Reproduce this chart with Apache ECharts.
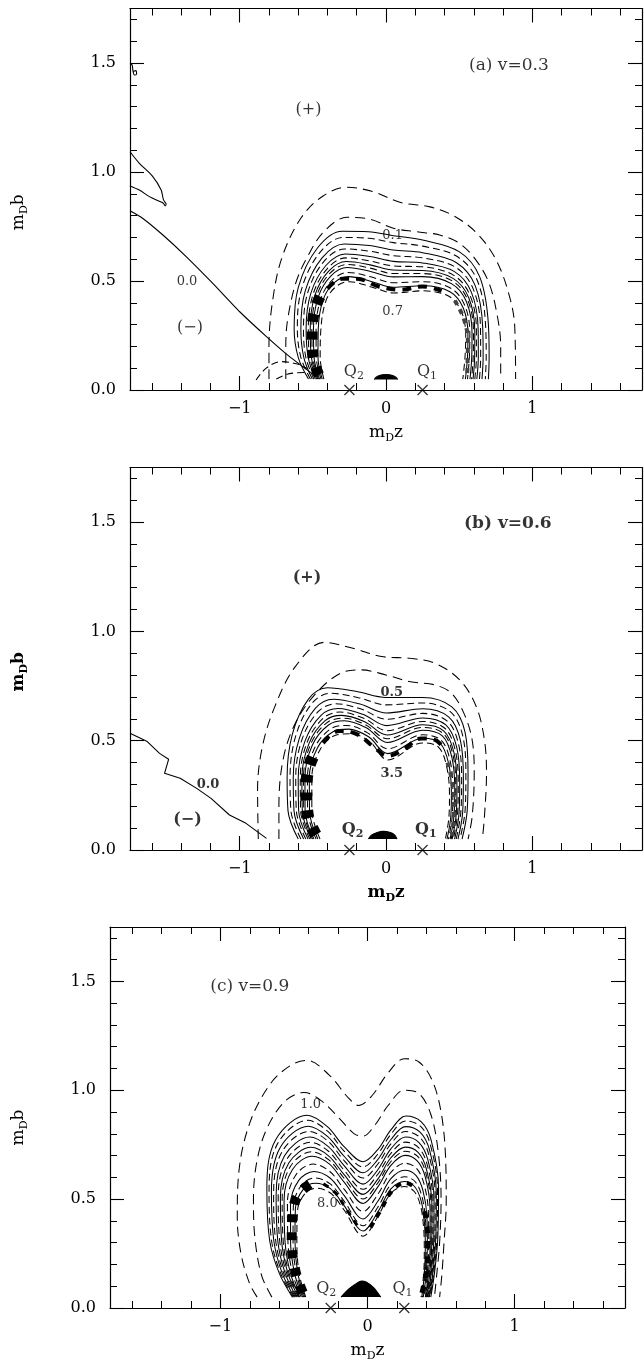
<!DOCTYPE html>
<html><head><meta charset="utf-8">
<script src="https://cdn.jsdelivr.net/npm/echarts@6/dist/echarts.min.js"></script>
<style>html,body{margin:0;padding:0;background:#fff}#chart{width:644px;height:1359px}</style>
</head><body><div id="chart"></div>
<script>
// ---------- axis ticks ----------
const X_RANGE = [-1.75, 1.75];
const Y_RANGE = [0, 1.75];
const xMajorTicks = [-1, 0, 1];
const xMinorTicks = [-1.6,-1.4,-1.2,-0.8,-0.6,-0.4,-0.2,0.2,0.4,0.6,0.8,1.2,1.4,1.6];
const yMajorTicks = [0, 0.5, 1.0, 1.5];
const yMinorTicks = [0.1,0.2,0.3,0.4,0.6,0.7,0.8,0.9,1.1,1.2,1.3,1.4,1.6,1.7];
const qMarks = [[-0.25, 0], [0.25, 0]];

// ---------- panel (a) v=0.3 ----------
const aOuter = [[-0.80,0.05],[-0.80,0.20],[-0.775,0.41],[-0.71,0.61],[-0.58,0.79],[-0.43,0.89],[-0.27,0.93],[-0.09,0.91],[0.10,0.86],[0.30,0.84],[0.46,0.80],[0.62,0.72],[0.75,0.60],[0.84,0.44],[0.88,0.29],[0.886,0.05]];
const aDash2 = [[-0.685,0.05],[-0.685,0.20],[-0.673,0.32],[-0.617,0.49],[-0.538,0.61],[-0.425,0.726],[-0.267,0.792],[-0.108,0.783],[0.05,0.742],[0.208,0.726],[0.366,0.711],[0.502,0.673],[0.615,0.596],[0.705,0.489],[0.762,0.336],[0.784,0.20],[0.784,0.05]];
const aLevel01 = [[-0.53,0.05],[-0.60,0.15],[-0.628,0.28],[-0.60,0.47],[-0.47,0.65],[-0.30,0.728],[-0.12,0.726],[0.05,0.708],[0.25,0.688],[0.50,0.635],[0.64,0.52],[0.70,0.30],[0.705,0.15],[0.70,0.05]];
const aF12 = [[-0.517,0.05],[-0.582,0.15],[-0.606,0.28],[-0.577,0.463],[-0.454,0.629],[-0.294,0.700],[-0.118,0.696],[0.05,0.676],[0.25,0.660],[0.492,0.610],[0.625,0.501],[0.681,0.294],[0.685,0.15],[0.679,0.05]];
const aF25 = [[-0.504,0.05],[-0.562,0.15],[-0.582,0.28],[-0.552,0.455],[-0.437,0.606],[-0.287,0.670],[-0.115,0.663],[0.05,0.642],[0.25,0.630],[0.482,0.584],[0.609,0.48],[0.661,0.288],[0.664,0.15],[0.656,0.05]];
const aF35 = [[-0.493,0.05],[-0.548,0.15],[-0.564,0.28],[-0.534,0.449],[-0.425,0.589],[-0.283,0.647],[-0.113,0.637],[0.05,0.616],[0.25,0.606],[0.476,0.563],[0.596,0.464],[0.646,0.283],[0.647,0.15],[0.639,0.05]];
const aF45 = [[-0.483,0.05],[-0.532,0.15],[-0.546,0.28],[-0.514,0.443],[-0.411,0.571],[-0.277,0.624],[-0.111,0.612],[0.05,0.590],[0.25,0.583],[0.468,0.543],[0.584,0.448],[0.630,0.277],[0.631,0.15],[0.621,0.05]];
const aF53 = [[-0.474,0.05],[-0.521,0.15],[-0.531,0.28],[-0.499,0.438],[-0.401,0.557],[-0.274,0.606],[-0.109,0.592],[0.05,0.569],[0.25,0.565],[0.463,0.526],[0.574,0.435],[0.618,0.274],[0.618,0.15],[0.607,0.05]];
const aF60 = [[-0.467,0.05],[-0.51,0.15],[-0.518,0.28],[-0.486,0.434],[-0.392,0.545],[-0.27,0.589],[-0.108,0.574],[0.05,0.550],[0.25,0.548],[0.458,0.512],[0.565,0.424],[0.607,0.27],[0.606,0.15],[0.595,0.05]];
const aF66 = [[-0.461,0.05],[-0.501,0.15],[-0.507,0.28],[-0.475,0.430],[-0.384,0.535],[-0.267,0.576],[-0.107,0.559],[0.05,0.534],[0.25,0.534],[0.454,0.500],[0.558,0.414],[0.598,0.267],[0.596,0.15],[0.585,0.05]];
const aF72 = [[-0.454,0.05],[-0.492,0.15],[-0.496,0.28],[-0.463,0.427],[-0.376,0.524],[-0.264,0.562],[-0.106,0.544],[0.05,0.519],[0.25,0.520],[0.45,0.487],[0.55,0.405],[0.588,0.264],[0.586,0.15],[0.574,0.05]];
const aF82 = [[-0.444,0.05],[-0.477,0.15],[-0.478,0.28],[-0.444,0.421],[-0.363,0.507],[-0.259,0.539],[-0.104,0.519],[0.05,0.492],[0.25,0.497],[0.443,0.467],[0.538,0.389],[0.573,0.259],[0.570,0.15],[0.557,0.05]];
const aF90 = [[-0.436,0.05],[-0.465,0.15],[-0.463,0.28],[-0.429,0.416],[-0.353,0.493],[-0.255,0.520],[-0.102,0.498],[0.05,0.471],[0.25,0.478],[0.437,0.451],[0.528,0.376],[0.560,0.255],[0.557,0.15],[0.543,0.05]];
const aInner = [[-0.425,0.05],[-0.45,0.15],[-0.445,0.28],[-0.41,0.41],[-0.34,0.475],[-0.25,0.497],[-0.10,0.473],[0.05,0.445],[0.25,0.455],[0.43,0.43],[0.515,0.36],[0.545,0.25],[0.54,0.15],[0.525,0.05]];
const aZero = [[-1.75,0.822],[-1.662,0.787],[-1.525,0.711],[-1.366,0.612],[-1.184,0.489],[-1.0,0.359],[-0.817,0.245],[-0.659,0.153],[-0.476,0.061]];
const aLoop = [[-1.75,1.093],[-1.686,1.04],[-1.594,0.979],[-1.537,0.917],[-1.521,0.872],[-1.503,0.853],[-1.51,0.845],[-1.52,0.855],[-1.537,0.862],[-1.617,0.887],[-1.686,0.917],[-1.75,0.936]];
const aCurl = [[-1.75,1.50],[-1.735,1.49],[-1.73,1.465],[-1.72,1.445],[-1.705,1.45],[-1.71,1.465],[-1.725,1.462]];
const aFoot1 = [[-0.888,0.046],[-0.821,0.099],[-0.719,0.13],[-0.606,0.119],[-0.538,0.099]];
const aFoot2 = [[-0.75,0.05],[-0.66,0.075],[-0.56,0.08]];
const aCap = [[-0.08,0.048],[-0.065,0.060],[-0.04,0.068],[0,0.071],[0.04,0.068],[0.065,0.060],[0.08,0.048]];
const aBandL = [[-0.46,0.07],[-0.50,0.16],[-0.505,0.26],[-0.49,0.36],[-0.45,0.43]];
const aBandT = [[-0.40,0.465],[-0.30,0.51],[-0.20,0.51],[-0.05,0.475],[0.10,0.46],[0.25,0.475],[0.38,0.455]];
const aBandR = [[0.47,0.41],[0.53,0.33],[0.56,0.22],[0.555,0.07]];
const aTexts = [['(a) v=0.3',0.84,1.49,17],['(+)',-0.53,1.284,16],['0.0',-1.36,0.497,13],['(−)',-1.34,0.284,16],['0.1',0.045,0.71,13],['0.7',0.045,0.36,13]];
const aQLabels = [['Q{s|2}',-0.22,0.085],['Q{s|1}',0.28,0.085]];

// ---------- panel (b) v=0.6 ----------
const bOuter = [[-0.873,0.05],[-0.878,0.275],[-0.845,0.473],[-0.76,0.656],[-0.62,0.839],[-0.423,0.95],[-0.226,0.923],[-0.03,0.885],[0.167,0.877],[0.336,0.854],[0.504,0.778],[0.617,0.656],[0.673,0.503],[0.687,0.351],[0.673,0.153],[0.659,0.05]];
const bDash2 = [[-0.732,0.05],[-0.732,0.198],[-0.704,0.412],[-0.62,0.58],[-0.479,0.717],[-0.311,0.809],[-0.17,0.824],[-0.001,0.801],[0.167,0.77],[0.336,0.755],[0.448,0.717],[0.533,0.625],[0.589,0.503],[0.603,0.351],[0.589,0.153],[0.561,0.05]];
const bLevel05 = [[-0.60,0.05],[-0.67,0.18],[-0.676,0.33],[-0.64,0.53],[-0.53,0.69],[-0.40,0.742],[-0.20,0.725],[0.0,0.698],[0.25,0.698],[0.45,0.655],[0.54,0.54],[0.561,0.35],[0.555,0.18],[0.52,0.05]];
const bF12 = [[-0.582,0.05],[-0.650,0.18],[-0.656,0.33],[-0.617,0.522],[-0.507,0.670],[-0.381,0.717],[-0.189,0.697],[0.002,0.664],[0.25,0.673],[0.439,0.633],[0.525,0.521],[0.546,0.338],[0.540,0.176],[0.506,0.05]];
const bF25 = [[-0.563,0.05],[-0.629,0.18],[-0.634,0.33],[-0.592,0.512],[-0.482,0.649],[-0.36,0.690],[-0.178,0.668],[0.003,0.627],[0.25,0.646],[0.428,0.609],[0.509,0.50],[0.529,0.325],[0.524,0.172],[0.492,0.05]];
const bF35 = [[-0.548,0.05],[-0.613,0.18],[-0.617,0.33],[-0.574,0.506],[-0.464,0.633],[-0.344,0.669],[-0.169,0.645],[0.005,0.598],[0.25,0.625],[0.419,0.590],[0.496,0.484],[0.517,0.315],[0.511,0.170],[0.480,0.05]];
const bF45 = [[-0.533,0.05],[-0.597,0.18],[-0.600,0.33],[-0.554,0.498],[-0.444,0.616],[-0.328,0.647],[-0.159,0.621],[0.006,0.569],[0.25,0.604],[0.409,0.572],[0.484,0.468],[0.504,0.305],[0.499,0.166],[0.469,0.05]];
const bF53 = [[-0.521,0.05],[-0.584,0.18],[-0.586,0.33],[-0.539,0.493],[-0.429,0.603],[-0.315,0.631],[-0.152,0.603],[0.007,0.546],[0.25,0.588],[0.402,0.557],[0.474,0.455],[0.494,0.297],[0.489,0.164],[0.460,0.05]];
const bF60 = [[-0.511,0.05],[-0.572,0.18],[-0.575,0.33],[-0.526,0.488],[-0.416,0.592],[-0.304,0.616],[-0.146,0.587],[0.008,0.526],[0.25,0.573],[0.396,0.544],[0.465,0.444],[0.485,0.29],[0.48,0.162],[0.452,0.05]];
const bF66 = [[-0.502,0.05],[-0.562,0.18],[-0.564,0.33],[-0.515,0.484],[-0.405,0.582],[-0.294,0.603],[-0.141,0.573],[0.009,0.509],[0.25,0.561],[0.391,0.533],[0.458,0.434],[0.477,0.284],[0.473,0.160],[0.445,0.05]];
const bF72 = [[-0.493,0.05],[-0.553,0.18],[-0.554,0.33],[-0.503,0.48],[-0.393,0.572],[-0.285,0.591],[-0.135,0.559],[0.009,0.492],[0.25,0.548],[0.385,0.522],[0.45,0.425],[0.47,0.278],[0.465,0.158],[0.438,0.05]];
const bF82 = [[-0.478,0.05],[-0.536,0.18],[-0.537,0.33],[-0.484,0.473],[-0.374,0.556],[-0.269,0.570],[-0.126,0.536],[0.011,0.463],[0.25,0.527],[0.376,0.503],[0.438,0.409],[0.457,0.268],[0.453,0.155],[0.427,0.05]];
const bF90 = [[-0.466,0.05],[-0.523,0.18],[-0.524,0.33],[-0.469,0.467],[-0.359,0.542],[-0.256,0.553],[-0.119,0.518],[0.012,0.441],[0.25,0.511],[0.369,0.489],[0.428,0.396],[0.447,0.26],[0.443,0.153],[0.417,0.05]];
const bInner = [[-0.451,0.05],[-0.507,0.18],[-0.507,0.33],[-0.45,0.46],[-0.34,0.526],[-0.24,0.532],[-0.11,0.495],[0.013,0.412],[0.25,0.49],[0.36,0.47],[0.415,0.38],[0.434,0.25],[0.43,0.15],[0.406,0.05]];
const bZero = [[-1.75,0.534],[-1.632,0.496],[-1.548,0.442],[-1.486,0.415],[-1.514,0.351],[-1.407,0.328],[-1.294,0.282],[-1.196,0.236],[-1.07,0.16],[-0.957,0.122],[-0.817,0.053]];
const bCap = [[-0.12,0.05],[-0.10,0.068],[-0.06,0.08],[-0.02,0.085],[0.03,0.08],[0.06,0.068],[0.075,0.05]];
const bBandL = [[-0.48,0.07],[-0.535,0.16],[-0.545,0.27],[-0.53,0.37],[-0.49,0.44]];
const bBandT = [[-0.43,0.49],[-0.32,0.545],[-0.20,0.53],[-0.08,0.47],[0.01,0.43],[0.12,0.46],[0.24,0.51],[0.33,0.505],[0.40,0.46]];
const bBandR = [[0.42,0.40],[0.455,0.30],[0.465,0.18],[0.45,0.07]];
const bTexts = [['(b) v=0.6',0.833,1.495,17],['(+)',-0.54,1.243,16],['0.0',-1.217,0.297,13],['(−)',-1.357,0.137,16],['0.5',0.04,0.722,13],['3.5',0.04,0.351,13]];
const bQLabels = [['Q{s|2}',-0.228,0.092],['Q{s|1}',0.272,0.092]];

// ---------- panel (c) v=0.9 ----------
const cOuter = [[-0.75,0.05],[-0.80,0.11],[-0.86,0.25],[-0.885,0.42],[-0.875,0.62],[-0.80,0.85],[-0.66,1.03],[-0.52,1.115],[-0.41,1.137],[-0.26,1.07],[-0.13,0.965],[-0.06,0.93],[0.03,0.975],[0.14,1.08],[0.25,1.145],[0.35,1.13],[0.44,1.045],[0.50,0.90],[0.53,0.70],[0.535,0.49],[0.52,0.30],[0.505,0.15],[0.49,0.05]];
const cDash2 = [[-0.65,0.05],[-0.72,0.15],[-0.765,0.32],[-0.775,0.50],[-0.75,0.68],[-0.68,0.83],[-0.56,0.95],[-0.43,0.99],[-0.31,0.95],[-0.19,0.87],[-0.09,0.80],[-0.03,0.79],[0.05,0.84],[0.14,0.93],[0.25,1.00],[0.35,0.985],[0.43,0.89],[0.48,0.72],[0.50,0.50],[0.49,0.30],[0.47,0.15],[0.455,0.05]];
const cLevel10 = [[-0.51,0.05],[-0.60,0.16],[-0.665,0.31],[-0.684,0.55],[-0.625,0.772],[-0.41,0.885],[-0.273,0.833],[-0.159,0.741],[-0.03,0.672],[0.068,0.726],[0.159,0.818],[0.261,0.882],[0.364,0.856],[0.432,0.772],[0.483,0.55],[0.477,0.313],[0.455,0.159],[0.43,0.05]];
const cF07 = [[-0.504,0.05],[-0.591,0.16],[-0.652,0.31],[-0.669,0.543],[-0.611,0.755],[-0.406,0.862],[-0.271,0.812],[-0.159,0.721],[-0.03,0.648],[0.068,0.705],[0.159,0.798],[0.260,0.859],[0.361,0.834],[0.427,0.751],[0.476,0.538],[0.471,0.311],[0.450,0.159],[0.425,0.05]];
const cF15 = [[-0.497,0.05],[-0.580,0.16],[-0.637,0.31],[-0.653,0.535],[-0.594,0.736],[-0.401,0.835],[-0.270,0.787],[-0.159,0.697],[-0.03,0.621],[0.068,0.680],[0.159,0.774],[0.259,0.833],[0.357,0.808],[0.421,0.727],[0.468,0.524],[0.463,0.308],[0.444,0.159],[0.42,0.05]];
const cF22 = [[-0.490,0.05],[-0.570,0.16],[-0.624,0.31],[-0.638,0.528],[-0.580,0.719],[-0.397,0.811],[-0.268,0.766],[-0.159,0.677],[-0.03,0.597],[0.068,0.659],[0.159,0.754],[0.259,0.811],[0.354,0.785],[0.416,0.706],[0.460,0.513],[0.457,0.306],[0.439,0.159],[0.415,0.05]];
const cF30 = [[-0.483,0.05],[-0.560,0.16],[-0.610,0.31],[-0.621,0.52],[-0.564,0.699],[-0.392,0.785],[-0.266,0.741],[-0.159,0.654],[-0.03,0.569],[0.069,0.634],[0.159,0.731],[0.258,0.785],[0.350,0.760],[0.410,0.681],[0.452,0.499],[0.450,0.303],[0.433,0.159],[0.41,0.05]];
const cF37 = [[-0.477,0.05],[-0.550,0.16],[-0.597,0.31],[-0.607,0.513],[-0.549,0.682],[-0.388,0.761],[-0.265,0.720],[-0.159,0.633],[-0.03,0.545],[0.069,0.613],[0.159,0.710],[0.257,0.762],[0.347,0.737],[0.405,0.660],[0.445,0.487],[0.443,0.301],[0.428,0.159],[0.406,0.05]];
const cF44 = [[-0.470,0.05],[-0.541,0.16],[-0.584,0.31],[-0.592,0.506],[-0.535,0.666],[-0.384,0.738],[-0.263,0.698],[-0.159,0.613],[-0.03,0.522],[0.069,0.591],[0.159,0.690],[0.256,0.739],[0.344,0.715],[0.400,0.639],[0.438,0.475],[0.437,0.298],[0.423,0.159],[0.401,0.05]];
const cF50 = [[-0.465,0.05],[-0.533,0.16],[-0.573,0.31],[-0.580,0.50],[-0.523,0.651],[-0.38,0.718],[-0.262,0.680],[-0.159,0.596],[-0.03,0.501],[0.069,0.573],[0.159,0.673],[0.256,0.720],[0.341,0.696],[0.396,0.621],[0.432,0.465],[0.432,0.297],[0.419,0.159],[0.397,0.05]];
const cF56 = [[-0.460,0.05],[-0.524,0.16],[-0.561,0.31],[-0.567,0.494],[-0.510,0.636],[-0.376,0.697],[-0.260,0.662],[-0.159,0.578],[-0.03,0.480],[0.069,0.555],[0.159,0.655],[0.255,0.701],[0.338,0.676],[0.392,0.603],[0.425,0.455],[0.426,0.295],[0.414,0.159],[0.393,0.05]];
const cF67 = [[-0.450,0.05],[-0.510,0.16],[-0.541,0.31],[-0.544,0.483],[-0.488,0.610],[-0.370,0.661],[-0.258,0.628],[-0.159,0.546],[-0.03,0.443],[0.069,0.521],[0.159,0.623],[0.254,0.665],[0.333,0.641],[0.384,0.570],[0.414,0.436],[0.416,0.291],[0.406,0.159],[0.386,0.05]];
const cF77 = [[-0.441,0.05],[-0.496,0.16],[-0.523,0.31],[-0.523,0.473],[-0.467,0.586],[-0.364,0.627],[-0.255,0.597],[-0.159,0.517],[-0.03,0.409],[0.070,0.490],[0.159,0.594],[0.253,0.633],[0.329,0.609],[0.377,0.539],[0.404,0.419],[0.407,0.288],[0.399,0.159],[0.379,0.05]];
const cF86 = [[-0.433,0.05],[-0.484,0.16],[-0.506,0.31],[-0.504,0.464],[-0.449,0.564],[-0.358,0.597],[-0.253,0.570],[-0.159,0.491],[-0.03,0.378],[0.070,0.463],[0.159,0.568],[0.252,0.603],[0.324,0.580],[0.370,0.512],[0.394,0.404],[0.399,0.285],[0.392,0.159],[0.373,0.05]];
const cF93 = [[-0.426,0.05],[-0.474,0.16],[-0.493,0.31],[-0.490,0.457],[-0.434,0.547],[-0.354,0.573],[-0.252,0.548],[-0.159,0.470],[-0.03,0.354],[0.070,0.441],[0.159,0.547],[0.251,0.581],[0.321,0.557],[0.365,0.491],[0.387,0.392],[0.393,0.282],[0.387,0.159],[0.369,0.05]];
const cInner = [[-0.42,0.05],[-0.465,0.16],[-0.48,0.31],[-0.475,0.45],[-0.42,0.53],[-0.35,0.55],[-0.25,0.527],[-0.159,0.45],[-0.03,0.33],[0.07,0.42],[0.159,0.527],[0.25,0.558],[0.318,0.535],[0.36,0.47],[0.38,0.38],[0.386,0.28],[0.382,0.159],[0.364,0.05]];
const cTent = [[-0.18,0.05],[-0.13,0.085],[-0.08,0.11],[-0.04,0.124],[-0.01,0.12],[0.04,0.095],[0.09,0.05]];
const cBandL = [[-0.44,0.07],[-0.49,0.17],[-0.515,0.30],[-0.51,0.43],[-0.47,0.52],[-0.39,0.57]];
const cBandR = [[0.37,0.07],[0.40,0.17],[0.41,0.29],[0.40,0.40],[0.375,0.48]];
const cBandV1 = [[-0.30,0.57],[-0.22,0.53],[-0.14,0.45],[-0.06,0.37]];
const cBandV2 = [[0.02,0.37],[0.09,0.45],[0.17,0.54],[0.26,0.575],[0.33,0.55]];
const cTexts = [['(c) v=0.9',-0.80,1.477,17],['1.0',-0.386,0.933,13],['8.0',-0.273,0.481,13]];
const cQLabels = [['Q{s|2}',-0.28,0.09],['Q{s|1}',0.238,0.09]];

// ---------- build ----------
const INK = '#000';
const FONT = 'DejaVu Serif';
const chart = echarts.init(document.getElementById('chart'), null, {renderer: 'canvas'});

const grids = [
  {left: 130, top: 8.5, width: 512, height: 381.5, outerBoundsMode: 'none', containLabel: false},
  {left: 130, top: 467.5, width: 512, height: 382.5, outerBoundsMode: 'none', containLabel: false},
  {left: 110, top: 927, width: 515, height: 381, outerBoundsMode: 'none', containLabel: false}
];
const namePad = [26, 26, 20];
const fmtX = v => (v < 0 ? '\u2212' + Math.abs(v) : String(v));
const fmtY = v => v.toFixed(1);

function nameStyle(bold, pad) {
  return {fontFamily: FONT, fontSize: 17, color: INK, fontWeight: bold ? 'bold' : 'normal', lineHeight: 22,
    padding: pad ? [0, pad, 0, 0] : 0,
    rich: {s: {fontFamily: FONT, fontSize: 11, lineHeight: 10, verticalAlign: 'bottom', color: INK, fontWeight: bold ? 'bold' : 'normal'}}};
}
const xAxes = [], yAxes = [];
grids.forEach((g, i) => {
  const bold = i === 1;
  const bx = {gridIndex: i, type: 'value', min: X_RANGE[0], max: X_RANGE[1], splitLine: {show: false}, silent: true};
  const by = {gridIndex: i, type: 'value', min: Y_RANGE[0], max: Y_RANGE[1], splitLine: {show: false}, silent: true};
  const line = {show: true, onZero: false, lineStyle: {color: INK, width: 1.2}};
  const noLine = {show: false, onZero: false};
  const majT = vals => ({show: true, inside: true, length: 14, customValues: vals, lineStyle: {color: INK, width: 1.1}});
  const minT = vals => ({show: true, inside: true, length: 7, customValues: vals, lineStyle: {color: INK, width: 1}});
  xAxes.push(
    Object.assign({}, bx, {position: 'bottom', axisLine: line, axisTick: majT(xMajorTicks),
      axisLabel: {show: true, customValues: xMajorTicks, formatter: fmtX, margin: 11, fontFamily: FONT, fontSize: 16, color: INK},
      name: 'm{s|D}z', nameLocation: 'middle', nameGap: 32, nameTextStyle: nameStyle(bold, 0)}),
    Object.assign({}, bx, {position: 'bottom', axisLine: noLine, axisTick: minT(xMinorTicks), axisLabel: {show: false}}),
    Object.assign({}, bx, {position: 'top', axisLine: line, axisTick: majT(xMajorTicks), axisLabel: {show: false}}),
    Object.assign({}, bx, {position: 'top', axisLine: noLine, axisTick: minT(xMinorTicks), axisLabel: {show: false}})
  );
  yAxes.push(
    Object.assign({}, by, {position: 'left', axisLine: line, axisTick: majT(yMajorTicks),
      axisLabel: {show: true, customValues: yMajorTicks, formatter: fmtY, margin: 14, fontFamily: FONT, fontSize: 16, color: INK},
      name: 'm{s|D}b', nameLocation: 'middle', nameRotate: 90, nameGap: i === 2 ? 80 : 100, nameTextStyle: nameStyle(bold, namePad[i])}),
    Object.assign({}, by, {position: 'left', axisLine: noLine, axisTick: minT(yMinorTicks), axisLabel: {show: false}}),
    Object.assign({}, by, {position: 'right', axisLine: line, axisTick: majT(yMajorTicks), axisLabel: {show: false}}),
    Object.assign({}, by, {position: 'right', axisLine: noLine, axisTick: minT(yMinorTicks), axisLabel: {show: false}})
  );
});

const series = [];
function addLine(g, pts, opt) {
  opt = opt || {};
  series.push({type: 'line', xAxisIndex: 4 * g, yAxisIndex: 4 * g, data: pts, showSymbol: false, symbol: 'none',
    smooth: opt.smooth === undefined ? 0.35 : opt.smooth, silent: true, animation: false, z: opt.z || 2,
    lineStyle: {color: opt.color || INK, width: opt.width || 1.1, type: opt.type || 'solid', cap: 'butt'},
    areaStyle: opt.fill ? {color: INK, opacity: 1, origin: opt.origin} : undefined});
}
const DASH = [10, 6];
const DASH2 = [7, 4];
function addContours(g, list) {
  list.forEach(([pts, st], k) => addLine(g, pts, {type: st === 's' ? 'solid' : (k < 2 ? DASH : DASH2), width: 1.05}));
}
function addTexts(g, list, bold) {
  series.push({type: 'scatter', xAxisIndex: 4 * g, yAxisIndex: 4 * g, symbolSize: 1, silent: true, animation: false, clip: false, z: 5,
    itemStyle: {color: 'rgba(0,0,0,0)'},
    data: list.map(([t, x, y, fs]) => ({value: [x, y], name: t,
      label: {show: true, position: 'inside', formatter: p => p.name, fontFamily: FONT, fontSize: fs, color: INK, fontWeight: bold ? 'bold' : 'normal'}}))});
}
function addQ(g, list, bold) {
  series.push({type: 'scatter', xAxisIndex: 4 * g, yAxisIndex: 4 * g, symbolSize: 1, silent: true, animation: false, clip: false, z: 5,
    itemStyle: {color: 'rgba(0,0,0,0)'},
    label: {show: true, position: 'inside', formatter: p => p.name, fontFamily: FONT, fontSize: 16, lineHeight: 20, color: INK, fontWeight: bold ? 'bold' : 'normal',
      rich: {s: {fontFamily: FONT, fontSize: 11, lineHeight: 9, verticalAlign: 'bottom', color: INK, fontWeight: bold ? 'bold' : 'normal'}}},
    data: list.map(([t, x, y]) => ({value: [x, y], name: t}))});
  series.push({type: 'scatter', xAxisIndex: 4 * g, yAxisIndex: 4 * g, silent: true, animation: false, clip: false, z: 6,
    symbol: 'path://M0,0L10,10M10,0L0,10', symbolSize: 10,
    itemStyle: {color: 'none', borderColor: INK, borderWidth: 1.3}, data: qMarks});
}

// panel a
addContours(0, [[aOuter,'d'],[aDash2,'d'],[aLevel01,'s'],[aF12,'d'],[aF25,'s'],[aF35,'d'],[aF45,'s'],[aF53,'d'],[aF60,'s'],[aF66,'d'],[aF72,'s'],[aF82,'d'],[aF90,'s'],[aInner,'d']]);
addLine(0, aZero, {smooth: 0.2});
addLine(0, aLoop, {smooth: 0.3});
addLine(0, aCurl, {smooth: 0.3});
addLine(0, aFoot1, {type: DASH2});
addLine(0, aFoot2, {type: DASH2});
addLine(0, aCap, {fill: true, origin: 0.048, smooth: 0.4});
addLine(0, aBandL, {width: 11, type: [8, 10], smooth: 0.4});
addLine(0, aBandT, {width: 4, type: [9, 7], smooth: 0.4});
addLine(0, aBandR, {width: 4, type: [5, 5], color: '#444', smooth: 0.4});
addTexts(0, aTexts, false);
addQ(0, aQLabels, false);

// panel b
addContours(1, [[bOuter,'d'],[bDash2,'d'],[bLevel05,'s'],[bF12,'d'],[bF25,'s'],[bF35,'d'],[bF45,'s'],[bF53,'d'],[bF60,'s'],[bF66,'d'],[bF72,'s'],[bF82,'d'],[bF90,'s'],[bInner,'d']]);
addLine(1, bZero, {smooth: 0});
addLine(1, bCap, {fill: true, origin: 0.05, smooth: 0.4});
addLine(1, bBandL, {width: 12, type: [8, 10], smooth: 0.4});
addLine(1, bBandT, {width: 4, type: [9, 7], smooth: 0.4});
addLine(1, bBandR, {width: 4, type: [5, 5], color: '#444', smooth: 0.4});
addTexts(1, bTexts, true);
addQ(1, bQLabels, true);

// panel c
addContours(2, [[cOuter,'d'],[cDash2,'d'],[cLevel10,'s'],[cF07,'d'],[cF15,'s'],[cF22,'d'],[cF30,'s'],[cF37,'d'],[cF44,'s'],[cF50,'d'],[cF56,'s'],[cF67,'d'],[cF77,'s'],[cF86,'d'],[cF93,'s'],[cInner,'d']]);
addLine(2, cTent, {fill: true, origin: 0.05, smooth: 0.3});
addLine(2, cBandL, {width: 10, type: [8, 10], smooth: 0.4});
addLine(2, cBandR, {width: 5, type: [7, 8], smooth: 0.4});
addLine(2, cBandV1, {width: 3, type: [6, 6], smooth: 0.4});
addLine(2, cBandV2, {width: 4, type: [6, 6], smooth: 0.4});
addTexts(2, cTexts, false);
addQ(2, cQLabels, false);

chart.setOption({
  animation: false,
  backgroundColor: '#fff',
  textStyle: {fontFamily: FONT},
  grid: grids,
  xAxis: xAxes,
  yAxis: yAxes,
  series: series
});
</script></body></html>
